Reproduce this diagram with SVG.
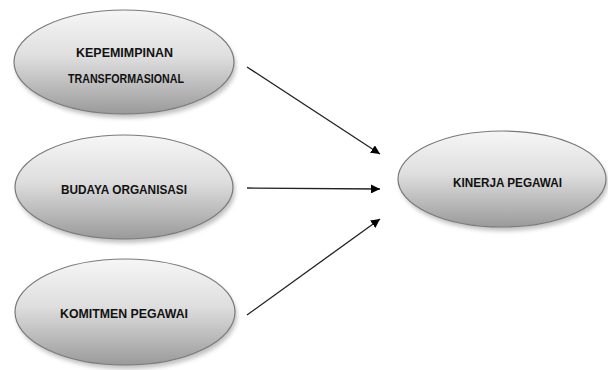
<svg xmlns="http://www.w3.org/2000/svg" width="608" height="370" viewBox="0 0 608 370">
<defs>
<linearGradient id="g" x1="0" y1="0" x2="0" y2="1">
<stop offset="0" stop-color="#f6f6f6"/>
<stop offset="0.45" stop-color="#dedede"/>
<stop offset="1" stop-color="#9a9a9a"/>
</linearGradient>
<filter id="sh" x="-10%" y="-10%" width="120%" height="130%">
<feGaussianBlur stdDeviation="2"/>
</filter>
<marker id="ah" viewBox="0 0 10 10" refX="10" refY="5" markerWidth="9" markerHeight="9" markerUnits="userSpaceOnUse" orient="auto">
<path d="M0,0 L10,5 L0,10 z" fill="#000"/>
</marker>
</defs>
<style>
.sh{fill:#999;opacity:0.6;filter:url(#sh)}
.el{fill:url(#g);stroke:#7a7a7a;stroke-width:1.2}
.t{font-family:"Liberation Sans",Arial,sans-serif;font-weight:bold;font-size:13px;fill:#111;text-anchor:middle}
.c{stroke:#222;stroke-width:1.3;fill:none;marker-end:url(#ah)}
</style>
<rect width="608" height="370" fill="#fff"/>
<g id="n1">
<ellipse class="sh" cx="126" cy="66" rx="110" ry="52"/>
<ellipse class="el" cx="124" cy="62" rx="110" ry="52"/>
<text class="t" x="124.5" y="57" textLength="97" lengthAdjust="spacingAndGlyphs">KEPEMIMPINAN</text>
<text class="t" x="126" y="83" textLength="116" lengthAdjust="spacingAndGlyphs">TRANSFORMASIONAL</text>
</g>
<g id="n2">
<ellipse class="sh" cx="126" cy="191" rx="109" ry="52"/>
<ellipse class="el" cx="124" cy="187" rx="109" ry="52"/>
<text class="t" x="124" y="194" textLength="126" lengthAdjust="spacingAndGlyphs">BUDAYA ORGANISASI</text>
</g>
<g id="n3">
<ellipse class="sh" cx="127" cy="316" rx="110" ry="53"/>
<ellipse class="el" cx="125" cy="312" rx="110" ry="53"/>
<text class="t" x="124" y="318" textLength="128" lengthAdjust="spacingAndGlyphs">KOMITMEN PEGAWAI</text>
</g>
<g id="n4">
<ellipse class="sh" cx="504" cy="183" rx="104" ry="48"/>
<ellipse class="el" cx="502" cy="179" rx="104" ry="48"/>
<text class="t" x="507.5" y="187" textLength="109" lengthAdjust="spacingAndGlyphs">KINERJA PEGAWAI</text>
</g>
<g id="connectors">
<line class="c" x1="247" y1="67" x2="380" y2="154"/>
<line class="c" x1="247" y1="188" x2="380" y2="189"/>
<line class="c" x1="247" y1="315" x2="380" y2="219"/>
</g>
</svg>
